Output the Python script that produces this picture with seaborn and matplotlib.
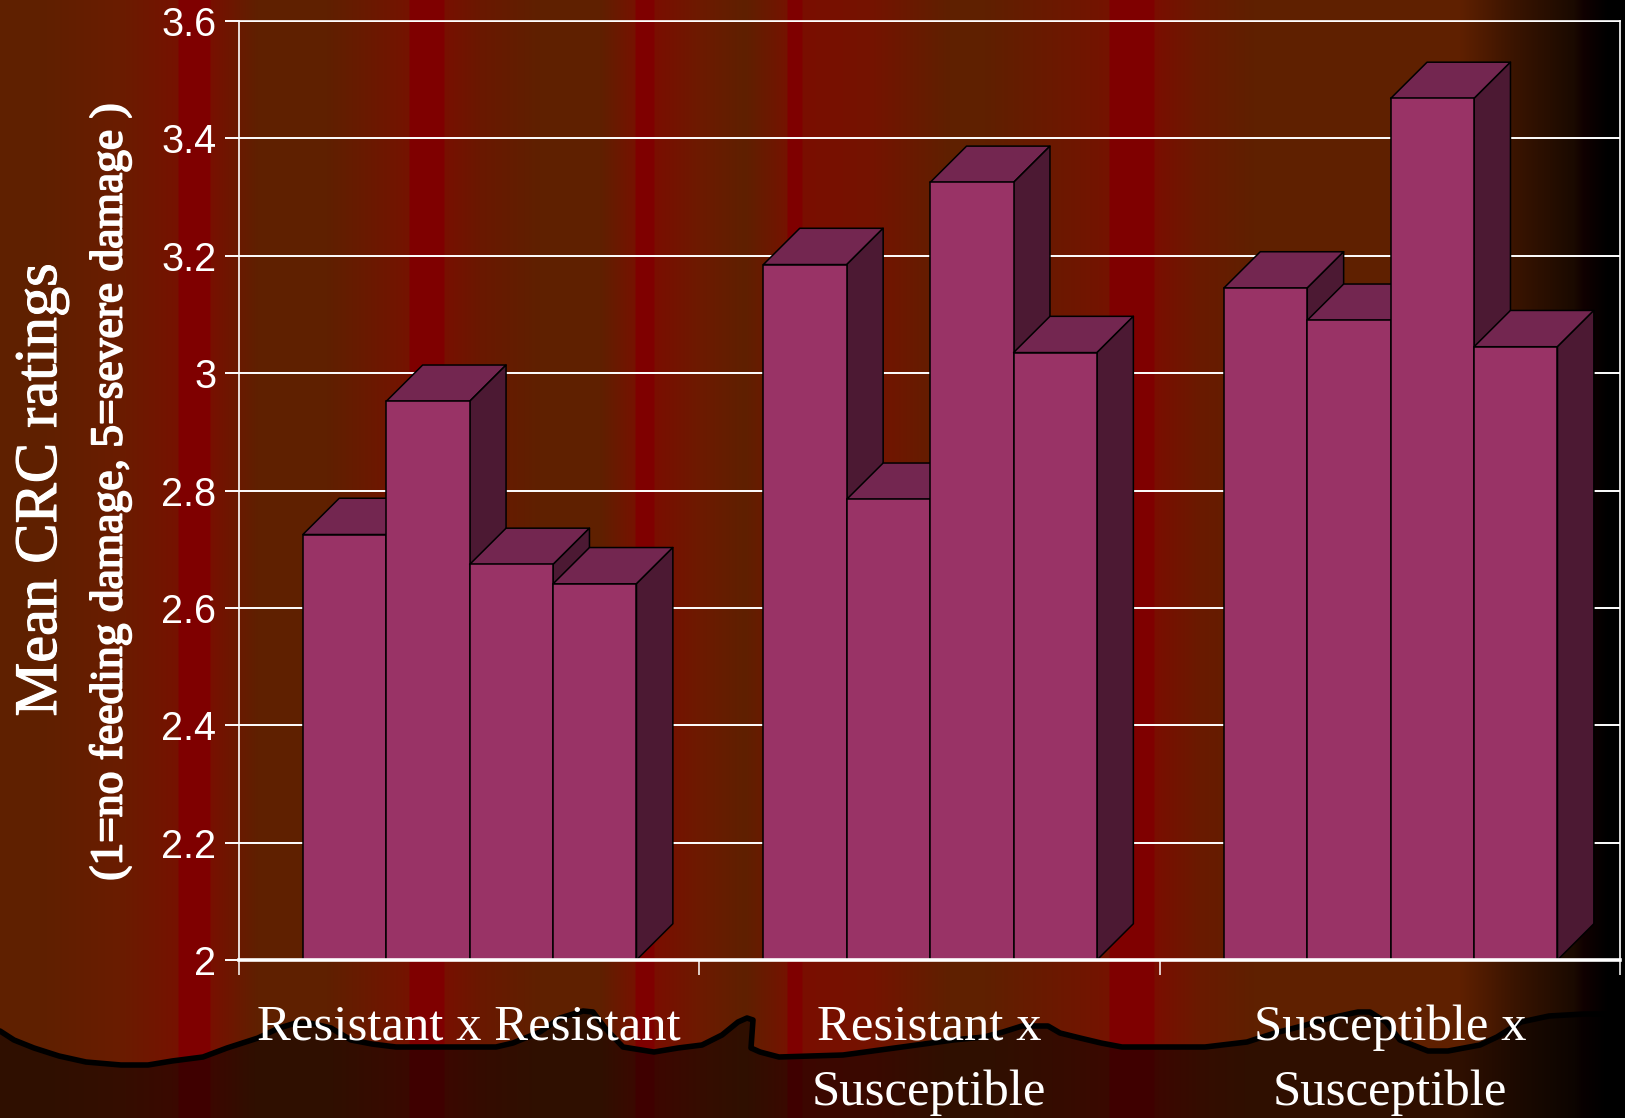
import numpy as np
import pandas as pd
import matplotlib
matplotlib.use("Agg")
import matplotlib.pyplot as plt
import matplotlib.patheffects as pe
from matplotlib.colors import to_rgb
from matplotlib.patches import Polygon
import seaborn as sns

# ---- data ----
categories = ["Resistant x Resistant", "Resistant x\nSusceptible", "Susceptible x\nSusceptible"]
series_names = ["Series 1", "Series 2", "Series 3", "Series 4"]
series_1 = [2.725, 3.185, 3.145]
series_2 = [2.952, 2.785, 3.09]
series_3 = [2.674, 3.325, 3.468]
series_4 = [2.641, 3.035, 3.045]
y_ticks = [2, 2.2, 2.4, 2.6, 2.8, 3, 3.2, 3.4, 3.6]
y_tick_labels = ["2", "2.2", "2.4", "2.6", "2.8", "3", "3.2", "3.4", "3.6"]

# ---- decoration ----
W, H = 1625, 1118
BROWN, RED = "#5F2000", "#7F0000"
band_x = [0, 40, 120, 178, 179, 210, 211, 258, 327, 409, 410, 444, 445, 480, 540, 600, 635, 636,
          654, 655, 700, 745, 787, 788, 802, 803, 870, 950, 985, 1109, 1110, 1154, 1155, 1200,
          1254, 1460, 1514, 1574, 1584, 1608, 1625]
band_c = [BROWN, BROWN, "#6A1C00", "#761200", RED, RED, "#781000", BROWN, BROWN, "#751300", RED, RED,
          "#781000", "#6A1800", BROWN, BROWN, "#761200", RED,
          RED, "#7A0E00", "#6D1A00", BROWN, "#751300", RED, RED, "#7A0E00", "#751300", BROWN, BROWN,
          "#751300", RED, RED, "#7A0E00", "#6A1A00",
          BROWN, BROWN, "#3A1400", "#1A0A00", "#100000", "#000000", "#000000"]
wave_x = [0, 14, 34, 59, 86, 121, 148, 172, 203, 227, 258, 279, 296, 310, 331, 351, 372, 396, 448, 496,
          513, 540, 560, 583, 593, 605, 623, 654, 678, 702, 722, 738, 747, 753, 751, 760, 779, 843, 902,
          953, 984, 1003, 1022, 1048, 1060, 1080, 1101, 1122, 1205, 1247, 1275, 1306, 1330, 1358, 1370,
          1386, 1400, 1428, 1448, 1480, 1497, 1521, 1549, 1584, 1625]
wave_y = [1031, 1040, 1048, 1056, 1062, 1065, 1065, 1061, 1057, 1048, 1038, 1028, 1023, 1023, 1028, 1040,
          1044, 1047, 1047, 1047, 1043, 1032, 1018, 1011, 1012, 1028, 1047, 1052, 1048, 1045, 1035, 1022,
          1018, 1020, 1048, 1052, 1057, 1055, 1047, 1040, 1037, 1032, 1026, 1026, 1033, 1038, 1043, 1047,
          1047, 1042, 1033, 1025, 1018, 1012, 1012, 1022, 1040, 1051, 1051, 1045, 1037, 1022, 1016, 1014, 1014]

FRONT, TOP, SIDE = "#993366", "#732650", "#4C1933"
WHITE = "#FFFFFF"
SERIF = "Liberation Serif"
SANS = "Liberation Sans"

sns.set_theme(style="white")
fig = plt.figure(figsize=(W / 100, H / 100), dpi=100)

# background
bg = fig.add_axes([0, 0, 1, 1], zorder=0)
rgb = np.array([to_rgb(c) for c in band_c])
cols = np.arange(W) + 0.5
strip = np.stack([np.interp(cols, band_x, rgb[:, i]) for i in range(3)], axis=-1)[None, :, :]
bg.imshow(strip, extent=(0, W, H, 0), aspect="auto", interpolation="nearest")
bg.fill(wave_x + [W, 0], wave_y + [H, H], color="black", alpha=0.5, lw=0)
bg.plot(wave_x, wave_y, color="black", lw=4.0, solid_joinstyle="round")
bg.set_xlim(0, W)
bg.set_ylim(H, 0)
bg.axis("off")

# chart
ax = fig.add_axes([238.5 / W, 1 - 960 / H, (1620 - 238.5) / W, (960 - 21) / H], zorder=1)
ax.patch.set_alpha(0)
df = pd.DataFrame({
    "category": categories * 4,
    "series": np.repeat(series_names, 3),
    "value": series_1 + series_2 + series_3 + series_4,
})
sns.barplot(data=df, x="category", y="value", hue="series", order=categories, hue_order=series_names,
            palette=[FRONT] * 4, saturation=1, width=0.7245, gap=0, legend=False, ax=ax,
            edgecolor="black", linewidth=1.1, errorbar=None)
ax.set_xlim(-0.5, 2.5)
ax.set_ylim(2, 3.6)

DX, DY, SHIFT = 0.079, 0.0618, 0.002
bars = sorted(ax.patches, key=lambda p: p.get_x())
for i, bar in enumerate(bars):
    bar.set_x(bar.get_x() + SHIFT)
    x0, w, v = bar.get_x(), bar.get_width(), bar.get_height()
    z = 3 + i * 0.01
    bar.set_zorder(z + 0.002)
    ax.add_patch(Polygon([(x0, v), (x0 + DX, v + DY), (x0 + w + DX, v + DY), (x0 + w, v)],
                         closed=True, fc=TOP, ec="black", lw=1.1, zorder=z, joinstyle="round"))
    ax.add_patch(Polygon([(x0 + w, 2), (x0 + w + DX, 2 + DY), (x0 + w + DX, v + DY), (x0 + w, v)],
                         closed=True, fc=SIDE, ec="black", lw=1.1, zorder=z + 0.001, joinstyle="round"))

ax.set_yticks(y_ticks, y_tick_labels)
ax.set_xticks([0, 1, 2], categories)
ax.set_xticks([-0.5, 0.5, 1.5, 2.5], minor=True)
ax.set_xlabel("")
ax.set_ylabel("")
ax.grid(False)
ax.yaxis.grid(True, color=WHITE, lw=1.4, zorder=0.5)
ax.set_axisbelow(True)
ax.tick_params(axis="y", which="major", left=True, length=10, width=1.4, color=WHITE, labelcolor=WHITE,
               pad=6, labelsize=28.5)
ax.tick_params(axis="x", which="major", bottom=False, length=0, labelcolor=WHITE, labelsize=36.5, pad=32)
ax.tick_params(axis="x", which="minor", bottom=True, length=11, width=1.1, color=WHITE)
for lab in ax.get_yticklabels():
    lab.set_fontfamily(SANS)
for lab in ax.get_xticklabels():
    lab.set_fontfamily(SERIF)
    lab.set_linespacing(1.52)
for name, sp in ax.spines.items():
    sp.set_visible(True)
    sp.set_color(WHITE)
    sp.set_linewidth(1.2)
    sp.set_zorder(10)
ax.spines["bottom"].set_linewidth(2.6)

fig.text(42 / W, 1 - 490 / H, "Mean CRC ratings", rotation=90, color=WHITE, family=SERIF,
         fontsize=43.5, ha="center", va="center",
         path_effects=[pe.withStroke(linewidth=0.8, foreground=WHITE)])
fig.text(110 / W, 1 - 492 / H, "(1=no feeding damage, 5=severe damage )", rotation=90, color=WHITE,
         family=SERIF, fontsize=32.8, ha="center", va="center",
         path_effects=[pe.withStroke(linewidth=1.3, foreground=WHITE)])

fig.savefig("out.png", dpi=100)
